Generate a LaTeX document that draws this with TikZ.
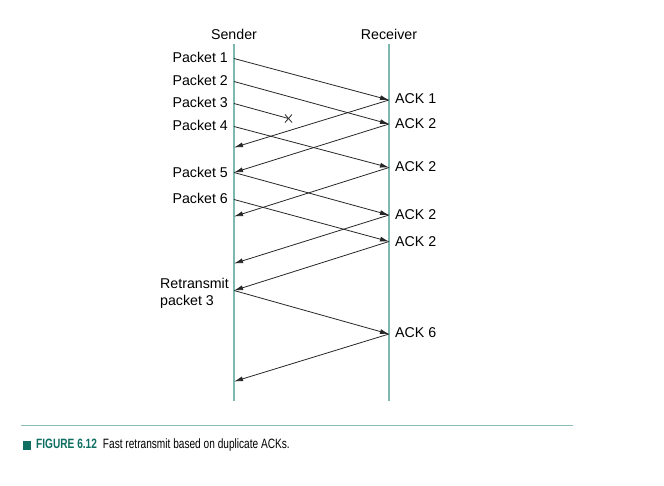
\documentclass[tikz,border=0pt]{standalone}
\usepackage{fontspec}
\setmainfont{Liberation Sans}
\newfontfamily\capfont[FakeStretch=0.75]{Liberation Sans}
\usetikzlibrary{arrows.meta,calc}
\definecolor{lifeline}{HTML}{7FB8AE}
\definecolor{rulecol}{HTML}{8DBDB5}
\definecolor{figteal}{HTML}{0F6E62}
\begin{document}
\begin{tikzpicture}[x=1pt,y=-1pt,
  life/.style={draw=lifeline,line width=1.7pt},
  msg/.style={draw=black!85,line width=0.8pt,-{Latex[length=9pt,width=5pt]}},
  lost/.style={draw=black!85,line width=0.8pt},
  lbl/.style={font=\fontsize{14.2}{17}\selectfont,inner sep=0pt},
  plbl/.style={lbl,anchor=east},
  albl/.style={lbl,anchor=west}]
\useasboundingbox (0,0) rectangle (664,485);
% lifelines
\node[lbl] (snd) at (234,34) {Sender};
\node[lbl] (rcv) at (389,34) {Receiver};
\coordinate (stop) at (234,44); \coordinate (sbot) at (234,401);
\coordinate (rtop) at (389,44); \coordinate (rbot) at (389,401);
\draw[life] (stop) -- (sbot);
\draw[life] (rtop) -- (rbot);
% sender points
\coordinate (s1) at (234,58.5);
\coordinate (s2) at (234,81.5);
\coordinate (s3) at (234,103.5);
\coordinate (s4) at (234,126.5);
\coordinate (a1in) at (234,147.5);
\coordinate (s5) at (234,172.5);
\coordinate (s6) at (234,199.5);
\coordinate (a3in) at (234,216.5);
\coordinate (a4in) at (234,263.5);
\coordinate (s7) at (234,290.5);
\coordinate (a6in) at (234,381.5);
% receiver points
\coordinate (r1) at (389,100);
\coordinate (r2) at (389,124);
\coordinate (r3) at (389,167.5);
\coordinate (r4) at (389,215);
\coordinate (r5) at (389,241.5);
\coordinate (r6) at (389,334);
\coordinate (x3) at (288.5,118.5);
% labels
\node[plbl] (p1) at (228,57.5) {Packet 1};
\node[plbl] (p2) at (228,80.5) {Packet 2};
\node[plbl] (p3) at (228,102.5) {Packet 3};
\node[plbl] (p4) at (228,125.5) {Packet 4};
\node[plbl] (p5) at (228,172) {Packet 5};
\node[plbl] (p6) at (228,198.5) {Packet 6};
\node[lbl,anchor=north west,align=left,font=\fontsize{14.2}{17.5}\selectfont] (rt) at (160,278) {Retransmit\\packet 3};
\node[albl] (k1) at (395,98.5) {ACK 1};
\node[albl] (k2) at (395,124) {ACK 2};
\node[albl] (k3) at (395,166.5) {ACK 2};
\node[albl] (k4) at (395,214.5) {ACK 2};
\node[albl] (k5) at (395,242) {ACK 2};
\node[albl] (k6) at (395,333) {ACK 6};
% messages
\draw[msg] (s1) -- (r1);
\draw[msg] (s2) -- (r2);
\draw[lost] (s3) -- (x3);
\draw[lost] ($(x3)+(-3.5,-4)$) -- ($(x3)+(3.5,4)$);
\draw[lost] ($(x3)+(-3.5,4)$) -- ($(x3)+(3.5,-4)$);
\draw[msg] (r1) -- (a1in);
\draw[msg] (s4) -- (r3);
\draw[msg] (r2) -- (s5);
\draw[msg] (s5) -- (r4);
\draw[msg] (r3) -- (a3in);
\draw[msg] (s6) -- (r5);
\draw[msg] (r4) -- (a4in);
\draw[msg] (r5) -- (s7);
\draw[msg] (s7) -- (r6);
\draw[msg] (r6) -- (a6in);
% caption
\coordinate (rl) at (21,425.5); \coordinate (rr) at (573,425.5);
\draw[draw=rulecol,line width=1.2pt] (rl) -- (rr);
\fill[figteal] (23,440.5) rectangle (31,449.5);
\node[anchor=west,inner sep=0pt,font=\capfont\fontsize{13.5}{16}\selectfont] (cap) at (36,445) {\textcolor{figteal}{\textbf{FIGURE 6.12}}\hspace{6pt}Fast retransmit based on duplicate ACKs.};
\end{tikzpicture}
\end{document}
